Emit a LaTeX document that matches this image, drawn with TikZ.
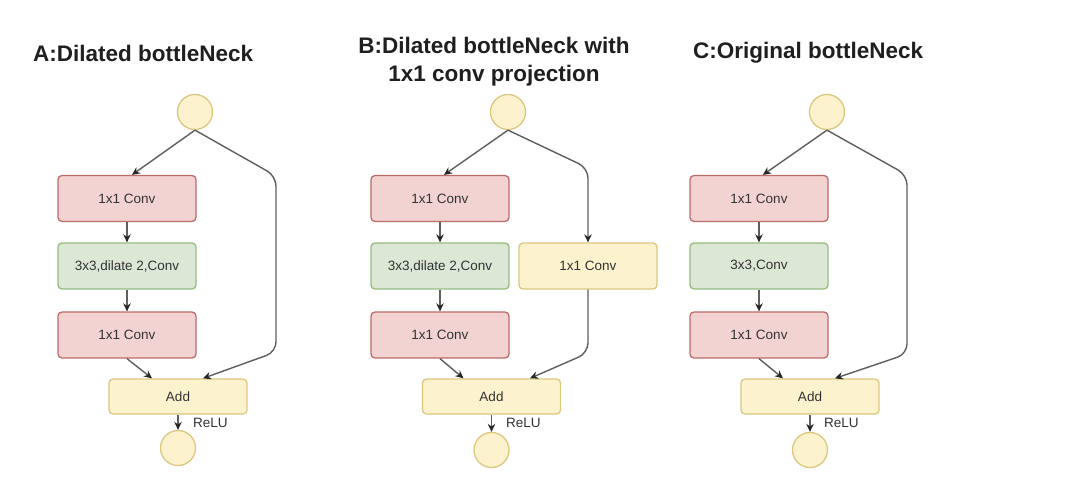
\documentclass[tikz,border=0pt]{standalone}
\usepackage{fontspec}
\setmainfont{Liberation Sans}
\usetikzlibrary{arrows.meta}
\definecolor{redfill}{HTML}{F3D3D2}
\definecolor{redline}{HTML}{BE6B68}
\definecolor{greenfill}{HTML}{DCE8D6}
\definecolor{greenline}{HTML}{96BC80}
\definecolor{yelfill}{HTML}{FCF2CE}
\definecolor{yelline}{HTML}{DCC77E}
\definecolor{linegray}{HTML}{5E5E5E}
\definecolor{txtgray}{HTML}{333333}
\tikzset{
  boxbase/.style={rounded corners=4pt, line width=1.3pt, minimum width=138pt,
    minimum height=46pt, inner sep=0pt, text=txtgray, font=\fontsize{13.5}{15}\selectfont},
  redbox/.style={boxbase, fill=redfill, draw=redline},
  greenbox/.style={boxbase, fill=greenfill, draw=greenline},
  yelbox/.style={boxbase, fill=yelfill, draw=yelline},
  addbox/.style={boxbase, fill=yelfill, draw=yelline, minimum height=35pt},
  dot/.style={circle, fill=yelfill, draw=yelline, line width=1.3pt, minimum size=35pt, inner sep=0pt},
  conn/.style={draw=linegray, line width=1.4pt, -{Stealth[length=8pt,width=7.5pt,color=black!85]}},
  ttl/.style={font=\fontsize{22.5}{28}\selectfont\bfseries, text=black!88, inner sep=0pt},
  lbl/.style={font=\fontsize{13.5}{15}\selectfont, text=txtgray, inner sep=0pt, anchor=west}
}
\begin{document}
\begin{tikzpicture}[x=1pt,y=-1pt]
\useasboundingbox (0,0) rectangle (1080,500);
\fill[white] (0,0) rectangle (1080,500);

% ---------- Panel A ----------
\node[ttl, anchor=west] (tA) at (33,53) {A:Dilated bottleNeck};
\node[dot] (inA) at (195,112) {};
\node[redbox] (c1A) at (127,198.5) {1x1 Conv};
\node[greenbox] (c2A) at (127,266) {3x3,dilate 2,Conv};
\node[redbox] (c3A) at (127,335) {1x1 Conv};
\node[addbox] (addA) at (178,396.5) {Add};
\node[dot] (outA) at (178,448) {};
\node[lbl] (rA) at (193,423) {ReLU};
\draw[conn] (inA.south) -- ([xshift=5pt]c1A.north);
\draw[conn] (c1A.south) -- (c2A.north);
\draw[conn] (c2A.south) -- (c3A.north);
\draw[conn] (c3A.south) -- ([xshift=-26pt]addA.north);
\draw[conn, rounded corners=10pt] (inA.south) -- (276,176) -- (276,352) -- ([xshift=25pt]addA.north);
\draw[conn] (addA.south) -- (outA.north);

% ---------- Panel B ----------
\node[ttl, align=center] (tB) at (494,62) {B:Dilated bottleNeck with\\1x1 conv projection};
\node[dot] (inB) at (508,112) {};
\node[redbox] (c1B) at (440,198.5) {1x1 Conv};
\node[greenbox] (c2B) at (440,266) {3x3,dilate 2,Conv};
\node[redbox] (c3B) at (440,335) {1x1 Conv};
\node[yelbox] (pB) at (588,266) {1x1 Conv};
\node[addbox] (addB) at (491.5,396.5) {Add};
\node[dot] (outB) at (491.5,450) {};
\node[lbl] (rB) at (506,423) {ReLU};
\draw[conn] (inB.south) -- ([xshift=4pt]c1B.north);
\draw[conn] (c1B.south) -- (c2B.north);
\draw[conn] (c2B.south) -- (c3B.north);
\draw[conn] (c3B.south) -- ([xshift=-28pt]addB.north);
\draw[conn, rounded corners=10pt] (inB.south) -- (588,168) -- (pB.north);
\draw[conn, rounded corners=10pt] (pB.south) -- (588,353) -- ([xshift=38.5pt]addB.north);
\draw[conn] (addB.south) -- (outB.north);

% ---------- Panel C ----------
\node[ttl, anchor=west] (tC) at (693,53) {C:Original bottleNeck};
\node[dot] (inC) at (827,112) {};
\node[redbox] (c1C) at (759,198.5) {1x1 Conv};
\node[greenbox] (c2C) at (759,266) {3x3,Conv};
\node[redbox] (c3C) at (759,335) {1x1 Conv};
\node[addbox] (addC) at (810,396.5) {Add};
\node[dot] (outC) at (810,450) {};
\node[lbl] (rC) at (824,423) {ReLU};
\draw[conn] (inC.south) -- ([xshift=4pt]c1C.north);
\draw[conn] (c1C.south) -- (c2C.north);
\draw[conn] (c2C.south) -- (c3C.north);
\draw[conn] (c3C.south) -- ([xshift=-27pt]addC.north);
\draw[conn, rounded corners=10pt] (inC.south) -- (907,175) -- (907,354) -- ([xshift=25pt]addC.north);
\draw[conn] (addC.south) -- (outC.north);
\end{tikzpicture}
\end{document}
